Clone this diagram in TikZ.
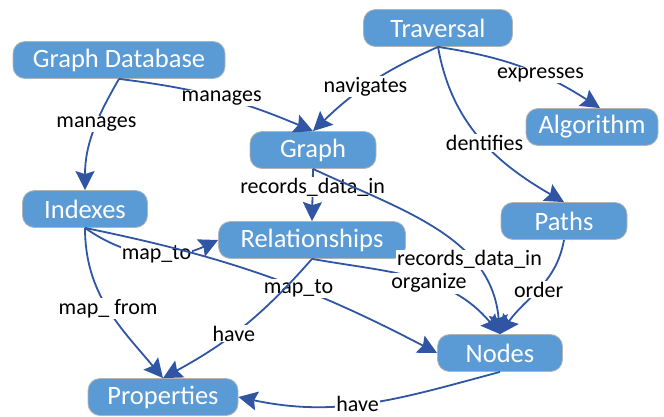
\documentclass[tikz,border=0pt]{standalone}
\usepackage{fontspec}
\setmainfont{Carlito}
\usepackage{xcolor}
\usepackage{tikz}
\usetikzlibrary{
  arrows.meta,
  positioning}
\definecolor{boxblue}{HTML}{5B9BD5}
\definecolor{boxline}{HTML}{B4B4B4}
\definecolor{linkblue}{HTML}{2F55A3}
\tikzset{concept/.style={draw=boxline, line width=0.8pt, fill=boxblue, text=white,
           rounded corners=12pt, minimum height=37pt, inner sep=1pt,
           font=\fontsize{26.5}{30}\selectfont},
         link/.style={draw=linkblue, line width=1.8pt,
           -{Stealth[length=19pt,width=19pt,inset=3pt]}},
         lbl/.style={fill=white, text=black, inner sep=1pt,
           font=\fontsize{22}{26}\selectfont}
        }
\begin{document}
\begin{tikzpicture}[x=1pt,y=1pt]
\useasboundingbox (0,0) rectangle (664,-416);
%Concepts
\node[concept, minimum width=212pt] at (119,-60) (gdb) {Graph Database};
\node[concept, minimum width=149pt] at (438,-28) (trav) {Traversal};
\node[concept, minimum width=132pt] at (592,-127) (algo) {Algorithm};
\node[concept, minimum width=126pt] at (313,-150) (graph) {Graph};
\node[concept, minimum width=125pt] at (85,-209) (idx) {Indexes};
\node[concept, minimum width=187pt] at (312,-240) (rel) {Relationships};
\node[concept, minimum width=126pt] at (564,-221) (paths) {Paths};
\node[concept, minimum width=125pt] at (500,-353) (nodes) {Nodes};
\node[concept, minimum width=150pt] at (163,-397) (prop) {Properties};

%Links
\draw[link] (gdb.south) to[out=-120,in=90] node[lbl, pos=0.42] {manages} (idx.north);
\draw[link] (gdb.south) to[bend left=8] node[lbl, pos=0.52] {manages} (graph.north);
\draw[link] (trav.south) to[bend right=10] node[lbl, pos=0.55] {navigates} (graph.north);
\draw[link] (trav.south) to[bend left=12] node[lbl, pos=0.62] {expresses} ([xshift=8pt]algo.north);
\draw[link] (trav.south) to[out=-80,in=150] node[lbl, pos=0.53] {dentifies} (paths.north);

\draw[link] (graph.south) -- node[lbl, pos=0.35] {records\_data\_in} (rel.north);
\draw[link] (rel.south) to[out=-10,in=130] node[lbl, pos=0.57] {organize} (nodes.north);
\draw[link] (graph.south) to[out=-25,in=95] node[lbl, pos=0.68] {records\_data\_in} (nodes.north);
\draw[link] (paths.south) to[out=-100,in=55] node[lbl, pos=0.5] {order} (nodes.north);

\draw[link] (idx.south) to[out=-35,in=205] node[lbl, pos=0.55] {map\_to} (rel.west);
\draw[link] (idx.south) to[bend left=8] node[lbl, pos=0.6] {map\_to} (nodes.west);
\draw[link] (idx.south) to[out=-90,in=130] node[lbl, pos=0.5] {map\_ from} (prop.north);
\draw[link] (rel.south) to[bend left=10] node[lbl, pos=0.57] {have} (prop.north);
\draw[link] (nodes.south) to[out=-165,in=-12] node[lbl, pos=0.55] {have} (prop.east);
\end{tikzpicture}
\end{document}
